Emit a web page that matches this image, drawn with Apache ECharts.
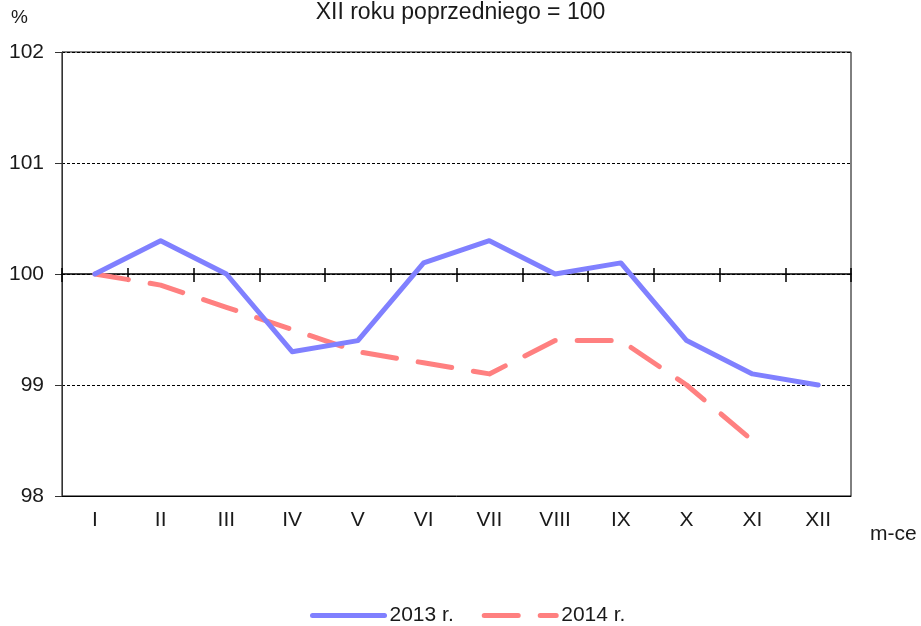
<!DOCTYPE html>
<html>
<head>
<meta charset="utf-8">
<script src="https://cdn.jsdelivr.net/npm/echarts@6/dist/echarts.min.js"></script>
<style>
html,body{margin:0;padding:0;background:#fff;}
#wykres{width:921px;height:626px;}
</style>
</head>
<body>
<div id="wykres"></div>
<script>
// dane
var miesiace = ['I','II','III','IV','V','VI','VII','VIII','IX','X','XI','XII'];
var dane2013 = [100, 100.3, 100.0, 99.3, 99.4, 100.1, 100.3, 100.0, 100.1, 99.4, 99.1, 99.0];
var dane2014 = [100, 99.9, 99.7, 99.5, 99.3, 99.2, 99.1, 99.4, 99.4, 99.0, 98.5];
var osY = {min: 98, max: 102, krok: 1};

var czcionka = '"Liberation Sans", Arial, sans-serif';

var opcje = {
    animation: false,
    title: {
        text: 'XII roku poprzedniego = 100',
        left: 'center',
        top: -4,
        textStyle: {fontFamily: czcionka, fontSize: 23, fontWeight: 'normal', color: '#1a1a1a'}
    },
    legend: {
        left: 305,
        top: 600,
        itemWidth: 72,
        itemHeight: 6,
        itemGap: 28,
        lineStyle: {width: 5, cap: 'round'},
        itemStyle: {opacity: 0},
        textStyle: {fontFamily: czcionka, fontSize: 21, color: '#1a1a1a'},
        data: ['2013 r.', '2014 r.']
    },
    grid: {
        left: 62,
        right: 70,
        top: 52,
        bottom: 130,
        show: true,
        borderColor: '#000',
        borderWidth: 1
    },
    xAxis: [
        {
            type: 'category',
            data: miesiace,
            boundaryGap: true,
            axisLine: {lineStyle: {color: '#000', width: 1}},
            axisTick: {show: false},
            axisLabel: {
                margin: 14,
                interval: 0,
                fontFamily: czcionka,
                fontSize: 21,
                color: '#1a1a1a'
            }
        },
        {
            // linia 100 z kreskami w dol
            type: 'category',
            data: miesiace,
            position: 'bottom',
            offset: -222,
            boundaryGap: true,
            axisLine: {lineStyle: {color: '#000', width: 1.5}},
            axisTick: {show: true, interval: 0, length: 8, lineStyle: {color: '#000', width: 1.5}},
            axisLabel: {show: false}
        },
        {
            // kreski w gore
            type: 'category',
            data: miesiace,
            position: 'bottom',
            offset: -222,
            boundaryGap: true,
            axisLine: {show: false},
            axisTick: {show: true, inside: true, interval: 0, length: 6, lineStyle: {color: '#000', width: 1.5}},
            axisLabel: {show: false}
        }
    ],
    yAxis: {
        type: 'value',
        min: osY.min,
        max: osY.max,
        interval: osY.krok,
        axisLine: {show: true, lineStyle: {color: '#333', width: 1}},
        axisTick: {show: true, length: 7, lineStyle: {color: '#333'}},
        axisLabel: {margin: 18, fontFamily: czcionka, fontSize: 21, color: '#1a1a1a'},
        splitLine: {show: true, lineStyle: {color: '#000', width: 1, type: [3, 2]}}
    },
    graphic: [
        {
            type: 'text',
            left: 11,
            top: 8,
            style: {text: '%', font: '19px ' + czcionka, fill: '#1a1a1a'}
        },
        {
            type: 'text',
            left: 870,
            top: 524,
            style: {text: 'm-ce', font: '21px ' + czcionka, fill: '#1a1a1a'}
        }
    ],
    series: [
        {
            name: '2013 r.',
            type: 'line',
            data: dane2013,
            symbol: 'none',
            color: '#8080FF',
            lineStyle: {width: 5, color: '#8080FF', cap: 'round', join: 'round'},
            z: 3
        },
        {
            name: '2014 r.',
            type: 'line',
            data: dane2014,
            symbol: 'none',
            color: '#FF8080',
            lineStyle: {width: 5, color: '#FF8080', type: [34, 22], cap: 'round', join: 'round'},
            z: 2
        }
    ]
};

var wykres = echarts.init(document.getElementById('wykres'));
wykres.setOption(opcje);
</script>
</body>
</html>
